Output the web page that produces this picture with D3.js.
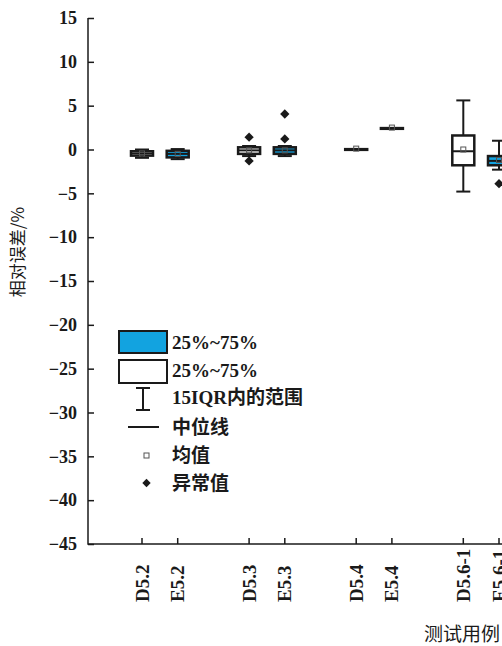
<!DOCTYPE html>
<html><head><meta charset="utf-8">
<script src="https://cdn.jsdelivr.net/npm/d3@7"></script>
<style>body{margin:0;background:#fff}</style>
</head><body>
<svg id="c" width="502" height="646"></svg>
<script>
const categories = ["D5.2","E5.2","D5.3","E5.3","D5.4","E5.4","D5.6-1","E5.6-1"];
const slots = [0,1,3,4,6,7,9,10];
const whiskerLow = [-0.95,-1.1,-0.75,-0.75,-0.05,2.35,-4.8,-2.3];
const q1 = [-0.7,-0.9,-0.5,-0.5,-0.04,2.36,-1.8,-1.8];
const median = [-0.45,-0.5,-0.1,-0.1,0.0,2.4,-0.2,-1.3];
const q3 = [-0.2,-0.15,0.25,0.25,0.04,2.44,1.6,-0.75];
const whiskerHigh = [0.0,0.05,0.4,0.4,0.05,2.45,5.6,1.0];
const means = [-0.45,-0.5,-0.1,-0.1,0.1,2.5,0.0,-1.2];
const outliers = [[],[],[1.4,-1.3],[4.05,1.2],[],[],[],[-3.9]];
const yTicks = [15,10,5,0,-5,-10,-15,-20,-25,-30,-35,-40,-45];
const legendLabels = ["25%~75%","25%~75%","15IQR内的范围","中位线","均值","异常值"];

const svg = d3.select("#c");
const y = d3.scaleLinear().domain([-45,15]).range([544,18]);
const x = d3.scaleLinear().domain([0,1]).range([142,177.7]);
const blue = "#12a3e0";
const ink = "#1a1a1a";
const serif = "'Liberation Serif','Times New Roman',serif";
const cjk = "'Noto Sans CJK SC',sans-serif";

// y axis
const yAxis = svg.append("g").attr("transform","translate(88,0)")
  .call(d3.axisRight(y).tickValues(yTicks).tickSize(6).tickFormat(d=>d<0?"\u2212"+(-d):d));
yAxis.select(".domain").remove();
yAxis.selectAll(".tick line").attr("stroke",ink).attr("stroke-width",1.5);
yAxis.selectAll(".tick text").attr("x",-11).attr("text-anchor","end")
  .attr("font-family",serif).attr("font-size",18).attr("font-weight","bold").attr("fill",ink);
svg.append("line").attr("x1",88).attr("x2",88).attr("y1",18).attr("y2",544.75).attr("stroke",ink).attr("stroke-width",1.5);

// x axis
svg.append("line").attr("x1",88).attr("x2",502).attr("y1",544).attr("y2",544).attr("stroke",ink).attr("stroke-width",1.5);
const xg = svg.append("g");
categories.forEach((c,i)=>{
  const px = x(slots[i]);
  xg.append("line").attr("x1",px).attr("x2",px).attr("y1",544).attr("y2",538).attr("stroke",ink).attr("stroke-width",1.5);
  xg.append("text").attr("transform",`translate(${px+6.5},602) rotate(-90)`)
    .attr("text-anchor","start").attr("font-family",serif).attr("font-size",19).attr("font-weight","bold")
    .attr("fill",ink).text(c);
});

// titles
svg.append("text").attr("x",500).attr("y",641).attr("text-anchor","end")
  .attr("font-family",cjk).attr("font-size",19).attr("fill",ink).text("测试用例");
svg.append("text").attr("transform","translate(24,252) rotate(-90)").attr("text-anchor","middle")
  .attr("font-family",cjk).attr("font-size",17).attr("fill",ink).text("相对误差/%");

// boxes
const bw = 22, cw = 14;
const boxes = svg.append("g");
categories.forEach((c,i)=>{
  const cx = x(slots[i]);
  const g = boxes.append("g");
  const fill = c[0]==="E" ? blue : "#fff";
  g.append("line").attr("x1",cx).attr("x2",cx).attr("y1",y(whiskerHigh[i])).attr("y2",y(whiskerLow[i])).attr("stroke",ink).attr("stroke-width",2);
  [whiskerHigh[i],whiskerLow[i]].forEach(v=>{
    g.append("line").attr("x1",cx-cw/2).attr("x2",cx+cw/2).attr("y1",y(v)).attr("y2",y(v)).attr("stroke",ink).attr("stroke-width",2);
  });
  g.append("rect").attr("x",cx-bw/2).attr("width",bw).attr("y",y(q3[i])).attr("height",Math.max(0.5,y(q1[i])-y(q3[i])))
    .attr("fill",fill).attr("stroke",ink).attr("stroke-width",2.5);
  g.append("line").attr("x1",cx-bw/2).attr("x2",cx+bw/2).attr("y1",y(median[i])).attr("y2",y(median[i])).attr("stroke",ink).attr("stroke-width",2);
  g.append("rect").attr("x",cx-2.5).attr("y",y(means[i])-2.5).attr("width",5).attr("height",5)
    .attr("fill","none").attr("stroke","#555").attr("stroke-width",1);
  outliers[i].forEach(v=>{
    g.append("path").attr("d",d3.symbol(d3.symbolDiamond2,55)()).attr("transform",`translate(${cx},${y(v)})`).attr("fill",ink);
  });
});

// legend
const lg = svg.append("g");
const tx = 172;
lg.append("rect").attr("x",119).attr("y",331).attr("width",48).attr("height",22).attr("fill",blue).attr("stroke",ink).attr("stroke-width",2);
lg.append("rect").attr("x",119).attr("y",360).attr("width",48).attr("height",23).attr("fill","#fff").attr("stroke",ink).attr("stroke-width",2);
lg.append("line").attr("x1",143).attr("x2",143).attr("y1",388).attr("y2",410).attr("stroke",ink).attr("stroke-width",2);
lg.append("line").attr("x1",136).attr("x2",150).attr("y1",388).attr("y2",388).attr("stroke",ink).attr("stroke-width",2);
lg.append("line").attr("x1",136).attr("x2",150).attr("y1",410).attr("y2",410).attr("stroke",ink).attr("stroke-width",2);
lg.append("line").attr("x1",128).attr("x2",159).attr("y1",427).attr("y2",427).attr("stroke",ink).attr("stroke-width",2);
lg.append("rect").attr("x",144).attr("y",453).attr("width",5).attr("height",5).attr("fill","none").attr("stroke","#555").attr("stroke-width",1);
lg.append("path").attr("d",d3.symbol(d3.symbolDiamond2,45)()).attr("transform","translate(146.5,483)").attr("fill",ink);
const ly = [342,370,397,427,455,483];
legendLabels.forEach((t,i)=>{
  lg.append("text").attr("x",tx).attr("y",ly[i]).attr("dy","0.35em")
    .attr("font-family",`'Liberation Serif','Noto Sans CJK SC',serif`).attr("font-size",19).attr("font-weight","bold")
    .attr("fill",ink).text(t);
});
</script>
</body></html>
